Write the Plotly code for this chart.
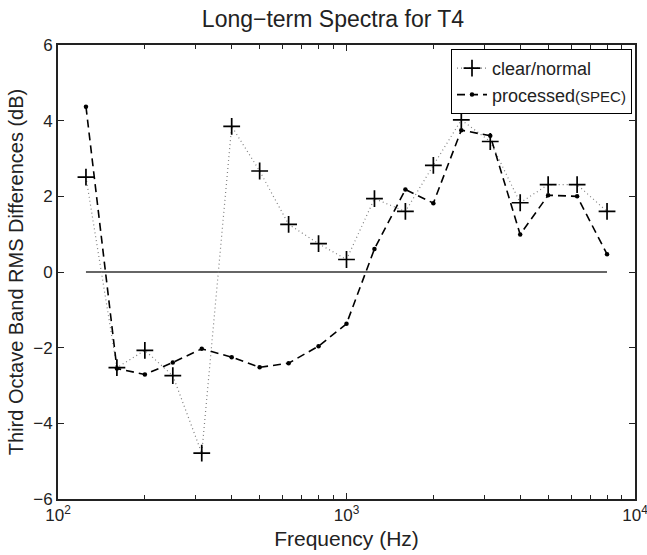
import plotly.graph_objects as go

freqs = [125, 160, 200, 250, 315, 400, 500, 630, 800, 1000,
         1250, 1600, 2000, 2500, 3150, 4000, 5000, 6300, 8000]
clear_normal = [2.51, -2.53, -2.07, -2.74, -4.79, 3.85, 2.67, 1.26, 0.75, 0.33,
                1.94, 1.60, 2.82, 4.02, 3.45, 1.83, 2.31, 2.31, 1.60]
processed = [4.37, -2.55, -2.71, -2.39, -2.03, -2.25, -2.52, -2.41, -1.96, -1.37,
             0.61, 2.18, 1.82, 3.75, 3.60, 0.99, 2.03, 2.00, 0.47]
x_ticks = [100, 1000, 10000]
x_ticktext = ["10<sup>2</sup>", "10<sup>3</sup>", "10<sup>4</sup>"]
x_minor = [m * d for d in (100, 1000) for m in range(2, 10)]
y_ticks = [-6, -4, -2, 0, 2, 4, 6]

FONT = "Liberation Sans, Arial, Helvetica, sans-serif"

fig = go.Figure()

fig.add_trace(go.Scatter(
    x=[freqs[0], freqs[-1]], y=[0, 0], mode="lines",
    line=dict(color="#333333", width=1.3), showlegend=False, hoverinfo="skip"))

fig.add_trace(go.Scatter(
    x=freqs, y=clear_normal, mode="lines+markers", name="clear/normal",
    line=dict(color="#808080", width=1.2, dash="1px,3px"),
    marker=dict(symbol="cross-thin", size=12, color="black",
                line=dict(color="black", width=1.7))))

fig.add_trace(go.Scatter(
    x=freqs, y=processed, mode="lines+markers",
    name="processed<span style='font-size:15px'>(SPEC)</span>",
    line=dict(color="black", width=1.6, dash="8px,5px"),
    marker=dict(symbol="circle", size=4.5, color="black")))

fig.update_layout(
    width=647, height=555,
    margin=dict(l=58, r=12, t=45, b=56),
    paper_bgcolor="white", plot_bgcolor="white",
    font=dict(family=FONT, size=16, color="#222222"),
    title=dict(text="Long\u2212term Spectra for T4", x=333 / 647, xanchor="center",
               y=1 - 19 / 555, yanchor="middle", automargin=False,
               font=dict(size=23, family=FONT, color="#222222")),
    showlegend=True,
    legend=dict(x=(632 - 58) / 577, xanchor="right", y=(499 - 49) / 454, yanchor="top",
                bordercolor="black", borderwidth=1, bgcolor="white",
                font=dict(size=18, family=FONT, color="#222222"),
                tracegroupgap=0, itemsizing="trace"),
)

fig.update_xaxes(
    type="log", range=[2, 4], automargin=False, ticklabeloverflow="allow",
    tickmode="array", tickvals=x_ticks, ticktext=x_ticktext,
    ticks="inside", ticklen=6, tickwidth=1, tickcolor="#222222",
    minor=dict(tickmode="array", tickvals=x_minor, ticks="inside", ticklen=4,
               tickwidth=1, tickcolor="#222222", showgrid=False),
    showline=True, linecolor="#222222", linewidth=2, mirror="ticks",
    showgrid=False, zeroline=False,
    tickfont=dict(size=17, family=FONT, color="#222222"),
    title=dict(text="Frequency (Hz)", font=dict(size=21, family=FONT, color="#222222"),
               standoff=7),
)

fig.update_yaxes(
    range=[-6, 6], tickmode="array", tickvals=y_ticks, automargin=False,
    ticklabeloverflow="allow",
    ticks="inside", ticklen=6, tickwidth=1, tickcolor="#222222",
    showline=True, linecolor="#222222", linewidth=2, mirror="ticks",
    showgrid=False, zeroline=False,
    tickfont=dict(size=17, family=FONT, color="#222222"),
    title=dict(text="Third Octave Band RMS Differences (dB)",
               font=dict(size=20, family=FONT, color="#222222"), standoff=4),
)

fig.write_html("out.html", config={"displayModeBar": False},
               post_script="document.body.style.margin='0';document.body.style.overflow='hidden';")
